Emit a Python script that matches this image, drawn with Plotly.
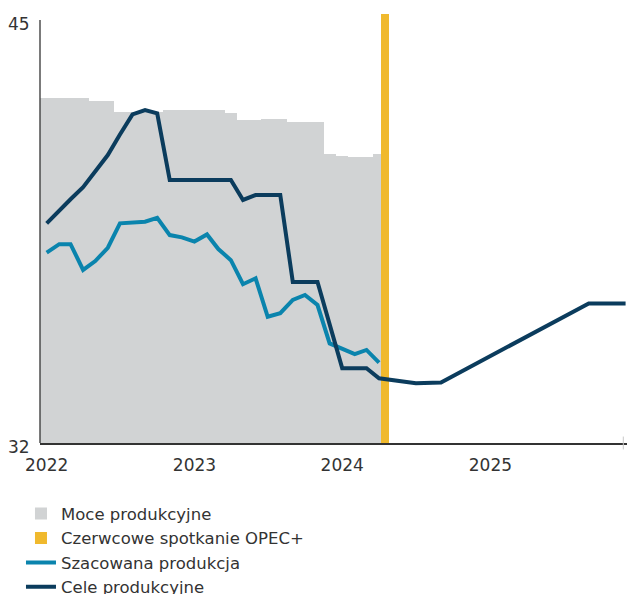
import pandas as pd
import plotly.graph_objects as go

FONT = "DejaVu Sans"
TEXT = "#333333"

# Monthly history, Jan 2022 - Apr 2024 (mb/d)
months = pd.date_range("2022-01-01", "2024-04-01", freq="MS")

capacity = [42.61, 42.61, 42.61, 42.61, 42.51, 42.51,
            42.18, 42.18, 42.18, 42.18, 42.22, 42.22,
            42.22, 42.22, 42.22, 42.13, 41.93, 41.93,
            41.95, 41.95, 41.87, 41.87, 41.87, 40.88,
            40.83, 40.78, 40.78, 40.88]

estimated = [37.85, 38.11, 38.11, 37.32, 37.59, 38.00,
             38.75, 38.78, 38.80, 38.92, 38.39, 38.32,
             38.19, 38.41, 37.96, 37.62, 36.88, 37.06,
             35.88, 35.99, 36.40, 36.55, 36.24, 35.06,
             34.88, 34.73, 34.86, 34.47]

# Production targets (change points), through end of 2025
target_dates = ["2022-01-01", "2022-02-01", "2022-03-01", "2022-04-01",
                "2022-05-01", "2022-06-01", "2022-07-01", "2022-08-01",
                "2022-09-01", "2022-10-01", "2022-11-01", "2023-04-01",
                "2023-05-01", "2023-06-01", "2023-08-01", "2023-09-01",
                "2023-11-01", "2024-01-01", "2024-03-01", "2024-04-01",
                "2024-07-01", "2024-09-01", "2025-09-01", "2025-12-01"]
targets = [38.75, 39.16, 39.49, 39.86, 40.34, 40.85, 41.48, 42.10,
           42.23, 42.13, 40.08, 40.08, 39.47, 39.62, 39.62, 36.95,
           36.95, 34.30, 34.30, 33.99, 33.84, 33.86, 36.29, 36.29]

meeting_date = "2024-04-16"

year_ticks = ["2022-01-01", "2023-01-01", "2024-01-01", "2025-01-01"]
year_labels = ["2022", "2023", "2024", "2025"]

Y_MIN, Y_MAX, Y_TOP = 32, 45, 45.184
DAY_MS = 86400000

fig = go.Figure()

fig.add_trace(go.Bar(
    x=months, y=capacity, name="Moce produkcyjne",
    width=[31 * DAY_MS] * len(months),
    marker=dict(color="#d1d3d4", line=dict(width=0)),
))
fig.add_trace(go.Bar(
    x=[meeting_date], y=[Y_TOP - Y_MIN], base=[Y_MIN],
    name="Czerwcowe spotkanie OPEC+",
    width=[20 * DAY_MS],
    marker=dict(color="#f0b92d", line=dict(width=0)),
))
fig.add_trace(go.Scatter(
    x=months, y=estimated, name="Szacowana produkcja", mode="lines",
    line=dict(color="#0a84ad", width=4),
))
fig.add_trace(go.Scatter(
    x=target_dates, y=targets, name="Cele produkcyjne", mode="lines",
    line=dict(color="#0b3c5d", width=4),
))

# left axis line spans the labelled range only
fig.add_shape(type="line", xref="paper", x0=0, x1=0, yref="y",
              y0=Y_MIN, y1=Y_MAX, line=dict(color=TEXT, width=1.3))
# end tick on the time axis
fig.add_shape(type="line", xref="paper", x0=0.9937, x1=0.9937, yref="paper",
              y0=-0.015, y1=0.015, line=dict(color="#c8c8c8", width=1))

for v in (Y_MAX, Y_MIN):
    fig.add_annotation(text=str(v), xref="paper", x=0, xanchor="right",
                       xshift=-8, yref="y", y=v, yanchor="middle", yshift=-4,
                       showarrow=False, font=dict(family=FONT, size=17, color=TEXT))

fig.update_layout(
    width=627, height=594,
    margin=dict(l=40, r=0, t=14, b=151, autoexpand=False),
    paper_bgcolor="white", plot_bgcolor="white",
    barmode="overlay", bargap=0,
    font=dict(family=FONT, size=17, color=TEXT),
    showlegend=True,
    legend=dict(orientation="v", x=-0.0324, xanchor="left", y=-0.1242,
                yanchor="top", bgcolor="rgba(0,0,0,0)",
                font=dict(family=FONT, size=16.5, color=TEXT),
                traceorder="normal"),
    xaxis=dict(type="date", range=["2021-12-15 12:00", "2025-12-04 12:00"],
               tickvals=year_ticks, ticktext=year_labels, ticks="",
               ticklabelstandoff=6,
               showgrid=False, zeroline=False, showline=True,
               linecolor=TEXT, linewidth=2,
               tickfont=dict(family=FONT, size=17, color=TEXT)),
    yaxis=dict(range=[Y_MIN, Y_TOP], showticklabels=False, showgrid=False,
               zeroline=False, showline=False, ticks=""),
)

fig.write_html("out.html")
